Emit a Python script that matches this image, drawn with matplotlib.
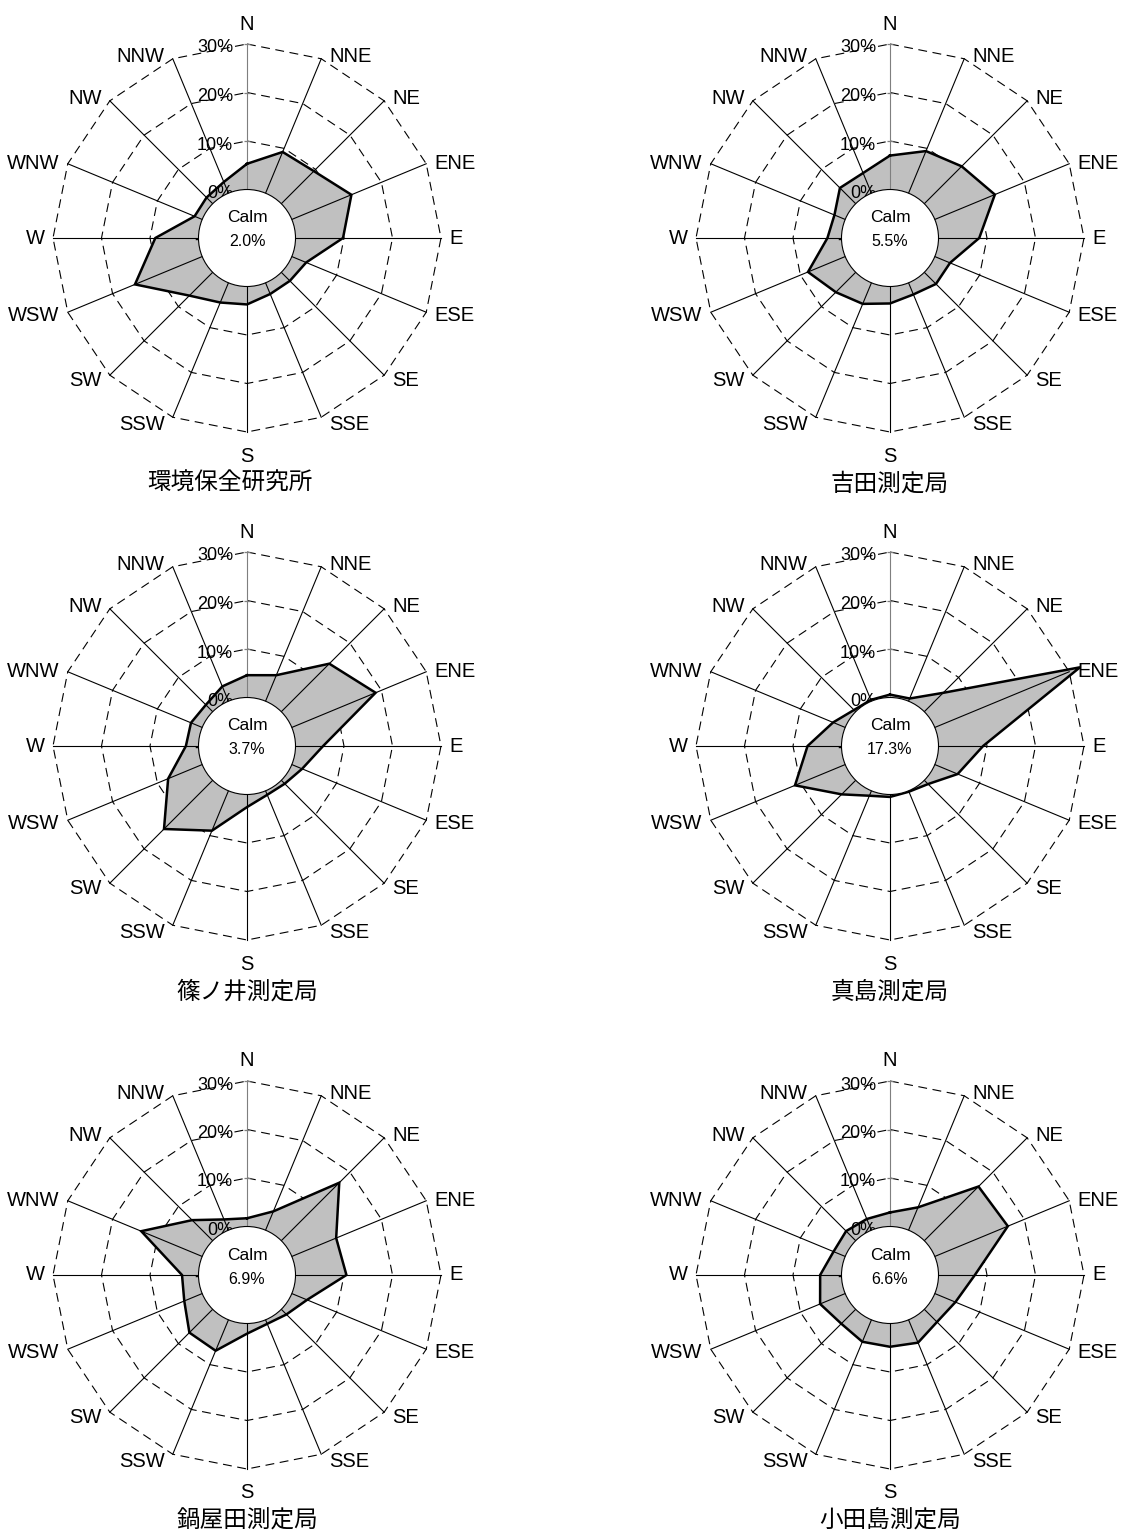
import numpy as np
import matplotlib
matplotlib.use("Agg")
import matplotlib.pyplot as plt
from matplotlib.patches import Circle, Polygon

plt.rcParams['font.family'] = ['Liberation Sans', 'Noto Sans CJK JP', 'DejaVu Sans']

# 16 wind directions, clockwise from north
directions = ['N', 'NNE', 'NE', 'ENE', 'E', 'ESE', 'SE', 'SSE',
              'S', 'SSW', 'SW', 'WSW', 'W', 'WNW', 'NW', 'NNW']

stations = ['環境保全研究所', '吉田測定局', '篠ノ井測定局', '真島測定局', '鍋屋田測定局', '小田島測定局']
calm = [2.0, 5.5, 3.7, 17.3, 6.9, 6.6]

# frequency of each direction (%)
kankyo = [5.3, 9.2, 9.5, 13.3, 9.8, 3.2, 2.5, 2.5, 3.7, 4.4, 6.8, 15.0, 8.9, 1.7, 1.8, 2.5]
yoshida = [7.0, 9.4, 10.9, 13.4, 8.4, 3.4, 3.4, 2.6, 3.5, 4.7, 5.8, 8.3, 2.9, 2.4, 4.6, 4.5]
shinonoi = [4.6, 5.8, 14.0, 18.7, 5.7, 2.3, 1.0, 0.9, 2.6, 8.9, 14.2, 7.6, 2.6, 2.5, 2.0, 3.3]
majima = [0.6, 0.6, 5.5, 32.4, 9.2, 5.1, 1.1, 0.2, 0.5, 1.1, 4.1, 11.2, 7.0, 2.7, 0.5, 0.3]
nabeyata = [1.7, 4.2, 16.9, 9.9, 10.5, 3.4, 1.5, 0.9, 2.1, 6.9, 6.8, 4.0, 3.4, 13.6, 6.0, 2.4]
otajima = [2.9, 5.1, 15.8, 16.3, 7.5, 4.6, 3.7, 5.1, 4.8, 4.9, 4.2, 5.6, 4.4, 2.6, 2.8, 2.5]
freqs = [kankyo, yoshida, shinonoi, majima, nabeyata, otajima]

r_ticks = [0, 10, 20, 30]
tick_labels = ['0%', '10%', '20%', '30%']
r_min = -10   # centre of the chart (its "-10%" label is hidden by the calm circle)

# layout in pixels
W, H = 1121, 1536
centers = [(247, 238), (890, 238), (247, 746), (890, 746), (247, 1275), (890, 1275)]
title_dx = [-17, 0, 0, 0, 0, 0]
px_per_unit = 4.85
half = 260

fig = plt.figure(figsize=(W / 100, H / 100), dpi=100)

theta = np.deg2rad(np.arange(16) * 22.5)
sx, sy = np.sin(theta), np.cos(theta)


def to_xy(vals):
    r = np.asarray(vals) - r_min
    return r * sx, r * sy


for k in range(6):
    cx, cy = centers[k]
    ax = fig.add_axes([(cx - half) / W, 1 - (cy + half) / H, 2 * half / W, 2 * half / H])
    lim = half / px_per_unit
    ax.set_xlim(-lim, lim)
    ax.set_ylim(-lim, lim)
    ax.set_axis_off()

    # dashed polygon grid
    for t in r_ticks:
        gx, gy = to_xy([t] * 16)
        ax.plot(np.append(gx, gx[0]), np.append(gy, gy[0]), color='black',
                lw=0.8, dashes=(8, 5), zorder=1)

    # data polygon
    dx, dy = to_xy(freqs[k])
    ax.add_patch(Polygon(np.column_stack([dx, dy]), closed=True, facecolor='#c0c0c0',
                         edgecolor='none', zorder=2))

    # spokes
    ox, oy = to_xy([r_ticks[-1]] * 16)
    for i in range(16):
        c = '#7f7f7f' if i == 0 else 'black'
        ax.plot([0, ox[i]], [0, oy[i]], color=c, lw=0.8, zorder=3)
    tick_r = np.array(r_ticks) - r_min
    ax.plot(np.zeros(len(tick_r)), tick_r, ls='none', marker='_', ms=5, mew=0.9,
            color='#7f7f7f', zorder=3)

    ax.plot(np.append(dx, dx[0]), np.append(dy, dy[0]), color='black', lw=1.8,
            solid_joinstyle='miter', zorder=4)

    # radial tick labels
    for t, lab in zip(r_ticks, tick_labels):
        ax.annotate(lab, xy=(0, t - r_min), xytext=(-14, -4), textcoords='offset pixels',
                    ha='right', va='center', fontsize=13, zorder=5)
    # only the minus sign of the centre label peeks out of the calm circle
    ax.annotate('-', xy=(0, 0), xytext=(-47, -2), textcoords='offset pixels',
                ha='right', va='center', fontsize=13, zorder=5)

    # direction labels
    for i, d in enumerate(directions):
        if i == 0:
            off, ha = (0, 20), 'center'
        elif i == 8:
            off, ha = (0, -24), 'center'
        else:
            ox_ = 8 if sx[i] > 0 else -8
            oy_ = -8 * max(0.0, -sy[i]) + (2 if sy[i] > 0.5 else 0)
            off, ha = (ox_, oy_), ('left' if sx[i] > 0 else 'right')
        ax.annotate(d, xy=(ox[i], oy[i]), xytext=off, textcoords='offset pixels',
                    ha=ha, va='center', fontsize=14.5, zorder=5)

    # calm circle
    ax.add_patch(Circle((0, 0), 0 - r_min, facecolor='white', edgecolor='black',
                        lw=0.8, zorder=6))
    ax.annotate('Calm', xy=(0, 0), xytext=(0, 20), textcoords='offset pixels',
                ha='center', va='center', fontsize=12.5, zorder=7)
    ax.annotate(f'{calm[k]:.1f}%', xy=(0, 0), xytext=(0, -4), textcoords='offset pixels',
                ha='center', va='center', fontsize=11.5, zorder=7)

    fig.text((cx + title_dx[k]) / W, 1 - (cy + 246) / H, stations[k],
             ha='center', va='center', fontsize=17)

fig.savefig('out.png', dpi=100, facecolor='white')
